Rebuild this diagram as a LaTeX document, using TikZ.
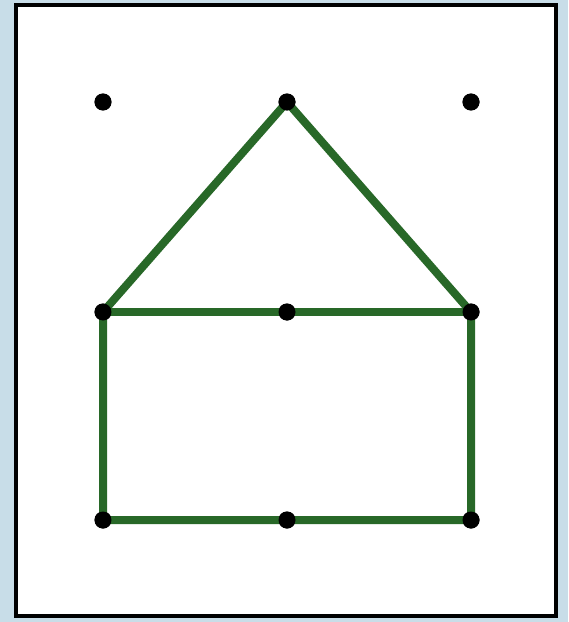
\documentclass[tikz,border=0pt]{standalone}
\usepackage{xcolor}
\usepackage{tikz}
\usetikzlibrary{positioning,calc}
\definecolor{bgblue}{RGB}{200,221,232}
\definecolor{housegreen}{RGB}{40,104,40}

\begin{document}
\begin{tikzpicture}[
  x=0.02cm, y=-0.02cm,
  dot/.style={circle, fill=black, inner sep=0pt, minimum size=0.34cm},
  edge/.style={draw=housegreen, line width=0.16cm, line cap=round, line join=round}
]
\fill[bgblue] (0,0) rectangle (568,622);
\draw[fill=white, line width=0.08cm] (16,5) rectangle (556,616);

\node[dot] (TL) at (103,102) {};
\node[dot] (TM) at (287,102) {};
\node[dot] (TR) at (471,102) {};
\node[dot] (ML) at (103,312) {};
\node[dot] (MM) at (287,312) {};
\node[dot] (MR) at (471,312) {};
\node[dot] (BL) at (103,520) {};
\node[dot] (BM) at (287,520) {};
\node[dot] (BR) at (471,520) {};

\draw[edge] (ML.center) -- (TM.center) -- (MR.center) -- (BR.center) -- (BL.center) -- cycle;
\draw[edge] (ML.center) -- (MR.center);

\foreach \n in {TL,TM,TR,ML,MM,MR,BL,BM,BR} {
  \node[dot] at (\n) {};
}
\end{tikzpicture}
\end{document}
